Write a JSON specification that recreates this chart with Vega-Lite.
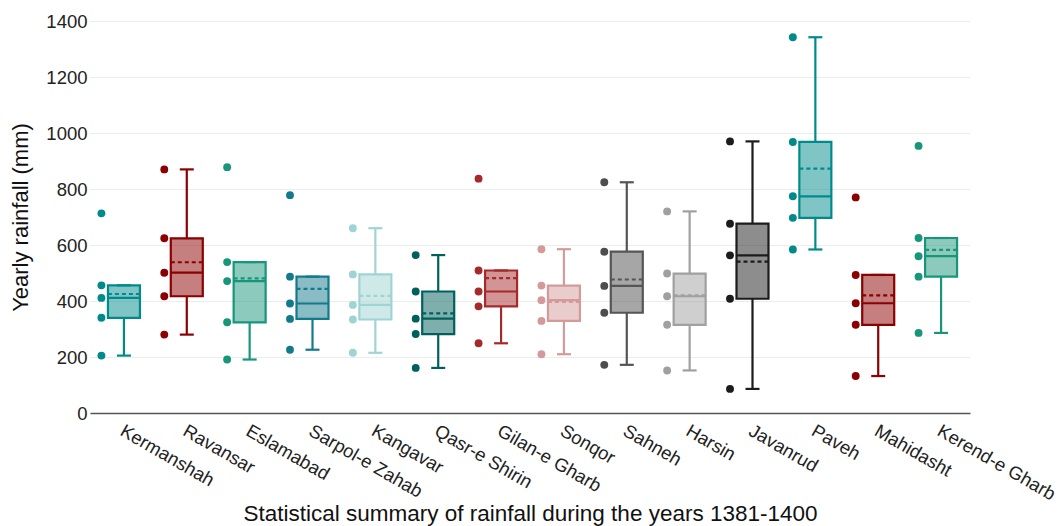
{
  "$schema": "https://vega.github.io/schema/vega-lite/v6.json",
  "autosize": {"type": "none"},
  "padding": {"left": 90, "top": 21, "right": 89, "bottom": 113},
  "width": 880,
  "height": 392,
  "background": "white",
  "config": {
    "font": "Liberation Sans",
    "view": {"stroke": null}
  },
  "data": {
    "values": [
      {"station": "Kermanshah", "rainfall": 205}, {"station": "Kermanshah", "rainfall": 340}, {"station": "Kermanshah", "rainfall": 411}, {"station": "Kermanshah", "rainfall": 456}, {"station": "Kermanshah", "rainfall": 713},
      {"station": "Ravansar", "rainfall": 280}, {"station": "Ravansar", "rainfall": 417}, {"station": "Ravansar", "rainfall": 501}, {"station": "Ravansar", "rainfall": 624}, {"station": "Ravansar", "rainfall": 870},
      {"station": "Eslamabad", "rainfall": 191}, {"station": "Eslamabad", "rainfall": 324}, {"station": "Eslamabad", "rainfall": 471}, {"station": "Eslamabad", "rainfall": 539}, {"station": "Eslamabad", "rainfall": 878},
      {"station": "Sarpol-e Zahab", "rainfall": 226}, {"station": "Sarpol-e Zahab", "rainfall": 336}, {"station": "Sarpol-e Zahab", "rainfall": 391}, {"station": "Sarpol-e Zahab", "rainfall": 487}, {"station": "Sarpol-e Zahab", "rainfall": 778},
      {"station": "Kangavar", "rainfall": 215}, {"station": "Kangavar", "rainfall": 334}, {"station": "Kangavar", "rainfall": 386}, {"station": "Kangavar", "rainfall": 495}, {"station": "Kangavar", "rainfall": 660},
      {"station": "Qasr-e Shirin", "rainfall": 161}, {"station": "Qasr-e Shirin", "rainfall": 282}, {"station": "Qasr-e Shirin", "rainfall": 337}, {"station": "Qasr-e Shirin", "rainfall": 434}, {"station": "Qasr-e Shirin", "rainfall": 564},
      {"station": "Gilan-e Gharb", "rainfall": 249}, {"station": "Gilan-e Gharb", "rainfall": 381}, {"station": "Gilan-e Gharb", "rainfall": 434}, {"station": "Gilan-e Gharb", "rainfall": 509}, {"station": "Gilan-e Gharb", "rainfall": 837},
      {"station": "Sonqor", "rainfall": 210}, {"station": "Sonqor", "rainfall": 329}, {"station": "Sonqor", "rainfall": 403}, {"station": "Sonqor", "rainfall": 455}, {"station": "Sonqor", "rainfall": 585},
      {"station": "Sahneh", "rainfall": 172}, {"station": "Sahneh", "rainfall": 358}, {"station": "Sahneh", "rainfall": 454}, {"station": "Sahneh", "rainfall": 576}, {"station": "Sahneh", "rainfall": 824},
      {"station": "Harsin", "rainfall": 152}, {"station": "Harsin", "rainfall": 315}, {"station": "Harsin", "rainfall": 417}, {"station": "Harsin", "rainfall": 498}, {"station": "Harsin", "rainfall": 720},
      {"station": "Javanrud", "rainfall": 86}, {"station": "Javanrud", "rainfall": 408}, {"station": "Javanrud", "rainfall": 563}, {"station": "Javanrud", "rainfall": 676}, {"station": "Javanrud", "rainfall": 970},
      {"station": "Paveh", "rainfall": 584}, {"station": "Paveh", "rainfall": 697}, {"station": "Paveh", "rainfall": 774}, {"station": "Paveh", "rainfall": 968}, {"station": "Paveh", "rainfall": 1342},
      {"station": "Mahidasht", "rainfall": 132}, {"station": "Mahidasht", "rainfall": 315}, {"station": "Mahidasht", "rainfall": 392}, {"station": "Mahidasht", "rainfall": 493}, {"station": "Mahidasht", "rainfall": 770},
      {"station": "Kerend-e Gharb", "rainfall": 286}, {"station": "Kerend-e Gharb", "rainfall": 487}, {"station": "Kerend-e Gharb", "rainfall": 560}, {"station": "Kerend-e Gharb", "rainfall": 625}, {"station": "Kerend-e Gharb", "rainfall": 954}
    ]
  },
  "encoding": {
    "x": {
      "field": "station",
      "type": "nominal",
      "sort": ["Kermanshah", "Ravansar", "Eslamabad", "Sarpol-e Zahab", "Kangavar", "Qasr-e Shirin", "Gilan-e Gharb", "Sonqor", "Sahneh", "Harsin", "Javanrud", "Paveh", "Mahidasht", "Kerend-e Gharb"],
      "scale": {"type": "band", "paddingInner": 0, "paddingOuter": 0},
      "axis": {
        "title": "Statistical summary of rainfall during the years 1381-1400",
        "titleFontSize": 22.5,
        "titleFontWeight": "normal",
        "titleColor": "#111",
        "titleBaseline": "alphabetic",
        "titleY": 107,
        "labelAngle": 30,
        "labelFontSize": 18.5,
        "labelColor": "#222",
        "labelPadding": 8,
        "labelOffset": 5,
        "labelOverlap": false,
        "labelBound": false,
        "ticks": false,
        "domainColor": "#555",
        "domainWidth": 1.5,
        "grid": false
      }
    }
  },
  "layer": [
    {
      "mark": {"type": "circle", "size": 62, "opacity": 1, "xOffset": -20},
      "encoding": {
        "y": {
          "field": "rainfall",
          "type": "quantitative",
          "scale": {"domain": [0, 1400], "nice": false},
          "axis": {
            "title": "Yearly rainfall (mm)",
            "titleFontSize": 22,
            "titleFontWeight": "normal",
            "titleColor": "#111",
            "titlePadding": 13,
            "values": [0, 200, 400, 600, 800, 1000, 1200, 1400],
            "format": "d",
            "labelFontSize": 18.5,
            "labelColor": "#222",
            "labelPadding": 3,
            "ticks": false,
            "domain": false,
            "gridColor": "#ececec",
            "gridWidth": 1
          }
        },
        "color": {
          "field": "station",
          "type": "nominal",
          "legend": null,
          "scale": {
            "domain": ["Kermanshah", "Ravansar", "Eslamabad", "Sarpol-e Zahab", "Kangavar", "Qasr-e Shirin", "Gilan-e Gharb", "Sonqor", "Sahneh", "Harsin", "Javanrud", "Paveh", "Mahidasht", "Kerend-e Gharb"],
            "range": ["#008b8b", "#8b0000", "#17967a", "#137a8c", "#9fd4d4", "#00605c", "#a52a2a", "#d49a9a", "#4d4d4d", "#a0a0a0", "#1c1c1c", "#008b8b", "#8b0000", "#17967a"]
          }
        }
      }
    },
    {
      "transform": [
        {"joinaggregate": [
          {"op": "q1", "field": "rainfall", "as": "q1"},
          {"op": "q3", "field": "rainfall", "as": "q3"},
          {"op": "median", "field": "rainfall", "as": "med"},
          {"op": "mean", "field": "rainfall", "as": "avg"}
        ], "groupby": ["station"]},
        {"filter": "datum.rainfall >= datum.q1 - 1.5 * (datum.q3 - datum.q1) && datum.rainfall <= datum.q3 + 1.5 * (datum.q3 - datum.q1)"},
        {"aggregate": [
          {"op": "min", "field": "rainfall", "as": "lo"},
          {"op": "max", "field": "rainfall", "as": "hi"},
          {"op": "min", "field": "q1", "as": "q1"},
          {"op": "min", "field": "q3", "as": "q3"},
          {"op": "min", "field": "med", "as": "med"},
          {"op": "min", "field": "avg", "as": "avg"}
        ], "groupby": ["station"]}
      ],
      "encoding": {
        "stroke": {
          "field": "station",
          "type": "nominal",
          "legend": null,
          "scale": {
            "domain": ["Kermanshah", "Ravansar", "Eslamabad", "Sarpol-e Zahab", "Kangavar", "Qasr-e Shirin", "Gilan-e Gharb", "Sonqor", "Sahneh", "Harsin", "Javanrud", "Paveh", "Mahidasht", "Kerend-e Gharb"],
            "range": ["#008b8b", "#8b0000", "#17967a", "#137a8c", "#9fd4d4", "#00605c", "#a52a2a", "#d49a9a", "#555555", "#a0a0a0", "#1c1c1c", "#008b8b", "#8b0000", "#17967a"]
          }
        }
      },
      "layer": [
        {
          "mark": {"type": "rule", "strokeWidth": 2.2, "xOffset": 2.5},
          "encoding": {
            "y": {"field": "lo", "type": "quantitative"},
            "y2": {"field": "q1"}
          }
        },
        {
          "mark": {"type": "rule", "strokeWidth": 2.2, "xOffset": 2.5},
          "encoding": {
            "y": {"field": "q3", "type": "quantitative"},
            "y2": {"field": "hi"}
          }
        },
        {
          "mark": {"type": "rule", "strokeWidth": 2.2, "xOffset": -4.5, "x2Offset": 9.5},
          "encoding": {
            "x2": {"field": "station"},
            "y": {"field": "lo", "type": "quantitative"}
          }
        },
        {
          "mark": {"type": "rule", "strokeWidth": 2.2, "xOffset": -4.5, "x2Offset": 9.5},
          "encoding": {
            "x2": {"field": "station"},
            "y": {"field": "hi", "type": "quantitative"}
          }
        },
        {
          "mark": {"type": "bar", "width": 32, "xOffset": 2.5, "fillOpacity": 0.5, "strokeWidth": 2.2},
          "encoding": {
            "y": {"field": "q1", "type": "quantitative"},
            "y2": {"field": "q3"},
            "fill": {
              "field": "station",
              "type": "nominal",
              "legend": null,
              "scale": {
                "domain": ["Kermanshah", "Ravansar", "Eslamabad", "Sarpol-e Zahab", "Kangavar", "Qasr-e Shirin", "Gilan-e Gharb", "Sonqor", "Sahneh", "Harsin", "Javanrud", "Paveh", "Mahidasht", "Kerend-e Gharb"],
                "range": ["#008b8b", "#8b0000", "#17967a", "#137a8c", "#9fd4d4", "#00605c", "#a52a2a", "#d49a9a", "#4d4d4d", "#a0a0a0", "#1c1c1c", "#008b8b", "#8b0000", "#17967a"]
              }
            }
          }
        },
        {
          "mark": {"type": "rule", "strokeWidth": 2.2, "xOffset": -13.5, "x2Offset": 18.5},
          "encoding": {
            "x2": {"field": "station"},
            "y": {"field": "med", "type": "quantitative"}
          }
        },
        {
          "mark": {"type": "rule", "strokeWidth": 2.2, "strokeDash": [4, 3], "xOffset": -13.5, "x2Offset": 18.5},
          "encoding": {
            "x2": {"field": "station"},
            "y": {"field": "avg", "type": "quantitative"}
          }
        }
      ]
    }
  ]
}
